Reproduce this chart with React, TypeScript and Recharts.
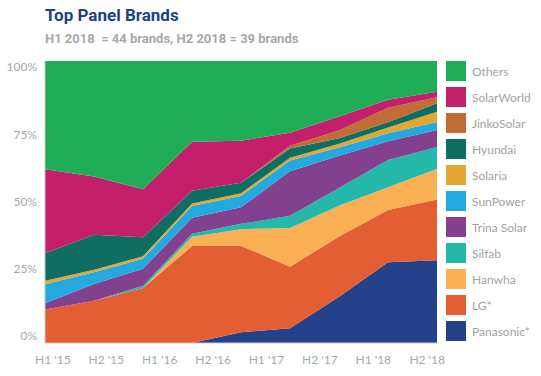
import React from 'react';
import { AreaChart, Area, XAxis, YAxis } from 'recharts';

// 9 half-year points (percent share)
const points = [0, 1, 2, 3, 4, 5, 6, 7, 8];
const periods = ["H1 '15", "H2 '15", "H1 '16", "H2 '16", "H1 '17", "H2 '17", "H1 '18", "H2 '18"];
const periodTicks = [0.16, 1.25, 2.34, 3.43, 4.52, 5.61, 6.7, 7.8];
const pctLabels = ['0%', '25%', '50%', '75%', '100%'];
const pctTicks = [0.025, 0.263, 0.502, 0.74, 0.979];

const panasonic = [0, 0, 0, 0, 3.8, 5.2, 16.4, 28.6, 29.4];
const lg = [11.9, 15.0, 19.5, 34.4, 30.7, 21.8, 21.3, 18.6, 21.6];
const hanwha = [0, 0, 0, 3.3, 5.9, 13.7, 10.9, 8.0, 10.9];
const silfab = [0, 0, 0.8, 1.0, 1.9, 4.3, 6.3, 9.7, 7.7];
const trina = [2.2, 5.9, 6.0, 5.7, 5.9, 15.8, 11.4, 6.6, 6.1];
const sunpower = [6.7, 4.2, 3.6, 4.2, 4.0, 3.8, 3.0, 2.9, 2.8];
const solaria = [1.3, 0.9, 0.9, 0.9, 1.0, 1.0, 1.3, 2.0, 3.7];
const hyundai = [9.7, 12.4, 6.7, 4.5, 3.7, 3.2, 1.9, 1.9, 3.0];
const jinko = [0, 0, 0, 0, 0, 1.0, 2.8, 5.1, 2.1];
const solarworld = [29.8, 20.7, 17.0, 17.4, 14.9, 4.6, 4.9, 2.9, 2.0];
const others = [38.4, 41.0, 45.5, 28.6, 28.3, 25.4, 19.7, 13.7, 10.9];

// bottom of the stack first
const series = [
  { key: 'Panasonic*', values: panasonic, color: '#24418a' },
  { key: 'LG*', values: lg, color: '#e35e33' },
  { key: 'Hanwha', values: hanwha, color: '#fbb055' },
  { key: 'Silfab', values: silfab, color: '#23b8aa' },
  { key: 'Trina Solar', values: trina, color: '#81418f' },
  { key: 'SunPower', values: sunpower, color: '#22a9df' },
  { key: 'Solaria', values: solaria, color: '#e3a630' },
  { key: 'Hyundai', values: hyundai, color: '#0e6e63' },
  { key: 'JinkoSolar', values: jinko, color: '#c06e35' },
  { key: 'SolarWorld', values: solarworld, color: '#c41f6b' },
  { key: 'Others', values: others, color: '#1fae57' },
];

const data = points.map((x, i) => {
  const row: Record<string, number> = { x };
  series.forEach((s) => {
    row[s.key] = s.values[i];
  });
  return row;
});

const font = 'Lato, "Open Sans", sans-serif';

const App = () => {
  return (
    <div style={{ position: 'absolute', left: 0, top: 0, width: 541, height: 376, background: '#fff' }}>
      <div
        style={{
          position: 'absolute', left: 45, top: 5, fontFamily: 'Roboto, sans-serif',
          fontWeight: 700, fontSize: 17, lineHeight: '20px', color: '#1f3f88',
        }}
      >
        Top Panel Brands
      </div>
      <div
        style={{
          position: 'absolute', left: 45, top: 31, fontFamily: 'Roboto, sans-serif',
          fontWeight: 700, fontSize: 13, lineHeight: '16px', color: '#a8a8a8', whiteSpace: 'pre',
        }}
      >
        {'H1 2018  = 44 brands, H2 2018 = 39 brands'}
      </div>

      <div style={{ position: 'absolute', left: 0, top: 0 }}>
        <AreaChart
          width={541}
          height={376}
          data={data}
          stackOffset="expand"
          margin={{ top: 61, right: 104, bottom: 8, left: 0 }}
        >
          <XAxis
            dataKey="x"
            type="number"
            domain={[0, 8]}
            ticks={periodTicks}
            tickFormatter={(v, i) => periods[i]}
            interval={0}
            height={25}
            tickLine={false}
            tickMargin={6}
            axisLine={{ stroke: '#c8c8c8' }}
            tick={{ fill: '#a3a9b0', fontSize: 12, fontFamily: font }}
          />
          <YAxis
            type="number"
            domain={[0, 1]}
            ticks={pctTicks}
            tickFormatter={(v, i) => pctLabels[i]}
            interval={0}
            width={45}
            tickLine={false}
            axisLine={{ stroke: '#c8c8c8' }}
            tick={{ fill: '#a3a9b0', fontSize: 12, fontFamily: font }}
          />
          {series.map((s) => (
            <Area
              key={s.key}
              type="linear"
              dataKey={s.key}
              stackId="a"
              stroke="none"
              fill={s.color}
              fillOpacity={1}
              isAnimationActive={false}
            />
          ))}
        </AreaChart>
      </div>

      <div style={{ position: 'absolute', left: 446, top: 61 }}>
        {[...series].reverse().map((s) => (
          <div key={s.key} style={{ display: 'flex', alignItems: 'center', height: 20, marginBottom: 6 }}>
            <div style={{ width: 20, height: 20, background: s.color }} />
            <span
              style={{ marginLeft: 6, fontFamily: font, fontSize: 12, color: '#a3a3a3', whiteSpace: 'nowrap' }}
            >
              {s.key}
            </span>
          </div>
        ))}
      </div>
    </div>
  );
};

export default App;
